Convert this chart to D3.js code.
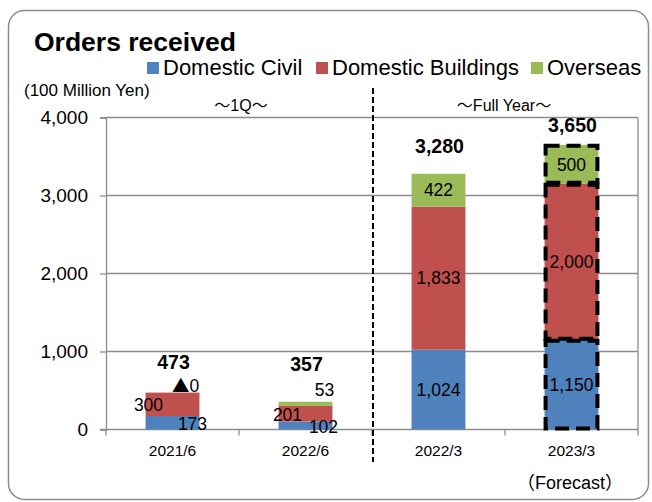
<!DOCTYPE html>
<html>
<head>
<meta charset="utf-8">
<script src="https://cdn.jsdelivr.net/npm/d3@7"></script>
<style>
  body { margin: 0; background: #fff; }
  svg { font-family: "Liberation Sans", Arial, sans-serif; }
  .cjk { font-family: "Noto Sans CJK JP", sans-serif; }
</style>
</head>
<body>
<svg width="652" height="502"></svg>
<script>
// data
const categories = ['2021/6', '2022/6', '2022/3', '2023/3'];
const seriesNames = ['Domestic Civil', 'Domestic Buildings', 'Overseas'];
const civil = [173, 102, 1024, 1150];
const buildings = [300, 201, 1833, 2000];
const overseas = [0, 53, 422, 500];
const totals = ['473', '357', '3,280', '3,650'];
const overseasText = ['▲0', '53', '422', '500'];
const yTicks = [0, 1000, 2000, 3000, 4000];

const colors = ['#4F81BD', '#C0504D', '#9BBB59'];

// label nudges for the thin 1Q bars [dx, dy] per series per category
const nudges = [
  [[20, 1], [18, 1], [0, 0], [0, 0]],
  [[-24, 0], [-18, 1], [0, 0], [0, 0]],
  [[13, -7], [19, -14], [0, 0], [0, 0]]
];
const totalGap = [31, 38, 28, 20];

const svg = d3.select('svg');

// writes text, putting the wide japanese glyphs in a CJK font
function mixed(sel, str) {
  str.split(/([～（）▲])/).filter(s => s).forEach(part => {
    const t = sel.append('tspan').text(part);
    if (/[～（）▲]/.test(part)) t.attr('class', 'cjk');
  });
}

// outer frame
svg.append('rect')
  .attr('x', 8.5).attr('y', 10.5)
  .attr('width', 640).attr('height', 489)
  .attr('rx', 16)
  .attr('fill', 'none')
  .attr('stroke', '#8c8c8c')
  .attr('stroke-width', 1.5);

const plotL = 106, plotR = 638, plotT = 117.5, plotB = 429.5;

const x = d3.scaleBand().domain(categories).range([plotL, plotR]).padding(0);
const y = d3.scaleLinear().domain([0, 4000]).range([plotB, plotT]);
const barW = x.bandwidth() * 0.405;

// gridlines
svg.append('g')
  .selectAll('line')
  .data(yTicks.slice(1))
  .enter().append('line')
  .attr('x1', plotL).attr('x2', plotR)
  .attr('y1', d => y(d)).attr('y2', d => y(d))
  .attr('stroke', '#8c8c8c')
  .attr('stroke-width', 1.3);

// right frame of plot area
svg.append('line')
  .attr('x1', plotR).attr('x2', plotR)
  .attr('y1', plotT).attr('y2', plotB)
  .attr('stroke', '#8c8c8c').attr('stroke-width', 1.3);

// y axis
const yAxis = svg.append('g')
  .attr('transform', `translate(${plotL},0)`)
  .call(d3.axisLeft(y).tickValues(yTicks).tickSize(6).tickPadding(12)
    .tickFormat(d3.format(',')));
yAxis.select('.domain').attr('stroke', '#8c8c8c').attr('stroke-width', 1.3);
yAxis.selectAll('.tick line').attr('stroke', '#8c8c8c').attr('stroke-width', 1.3);
yAxis.selectAll('.tick text')
  .attr('font-size', 19)
  .attr('font-family', '"Liberation Sans", Arial, sans-serif')
  .attr('fill', '#000');

// x axis line with boundary ticks
svg.append('line')
  .attr('x1', plotL - 6).attr('x2', plotR)
  .attr('y1', plotB).attr('y2', plotB)
  .attr('stroke', '#8c8c8c').attr('stroke-width', 1.3);
svg.append('g')
  .selectAll('line')
  .data(categories.concat(['end']))
  .enter().append('line')
  .attr('x1', (d, i) => plotL + i * x.step())
  .attr('x2', (d, i) => plotL + i * x.step())
  .attr('y1', plotB).attr('y2', plotB + 6)
  .attr('stroke', '#8c8c8c').attr('stroke-width', 1.3);

svg.append('g')
  .selectAll('text')
  .data(categories)
  .enter().append('text')
  .attr('x', d => x(d) + x.bandwidth() / 2)
  .attr('y', 456)
  .attr('text-anchor', 'middle')
  .attr('font-size', 15.5)
  .text(d => d);

// stacked bars
const rows = categories.map((c, i) => ({ cat: c, s0: civil[i], s1: buildings[i], s2: overseas[i] }));
const stack = d3.stack().keys(['s0', 's1', 's2'])(rows);

const seriesText = [
  civil.map(d3.format(',')),
  buildings.map(d3.format(',')),
  overseasText
];

stack.forEach((layer, si) => {
  const g = svg.append('g');
  g.selectAll('rect')
    .data(layer)
    .enter().append('rect')
    .attr('x', d => x(d.data.cat) + (x.bandwidth() - barW) / 2)
    .attr('y', d => y(d[1]))
    .attr('width', barW)
    .attr('height', d => y(d[0]) - y(d[1]))
    .attr('fill', colors[si]);
});

// dashed outlines on the forecast bar
const fi = categories.indexOf('2023/3');
svg.append('g')
  .selectAll('rect')
  .data(stack.map(layer => layer[fi]))
  .enter().append('rect')
  .attr('x', d => x(d.data.cat) + (x.bandwidth() - barW) / 2 + 1)
  .attr('y', d => y(d[1]) + 1)
  .attr('width', barW - 2)
  .attr('height', d => y(d[0]) - y(d[1]) - 2)
  .attr('fill', 'none')
  .attr('stroke', '#000')
  .attr('stroke-width', 4)
  .attr('stroke-dasharray', '14,7');

// segment labels
stack.forEach((layer, si) => {
  svg.append('g')
    .selectAll('text')
    .data(layer)
    .enter().append('text')
    .attr('x', (d, i) => x(d.data.cat) + x.bandwidth() / 2 + nudges[si][i][0])
    .attr('y', (d, i) => (y(d[0]) + y(d[1])) / 2 + nudges[si][i][1])
    .attr('dy', '0.36em')
    .attr('text-anchor', 'middle')
    .attr('font-size', 17.5)
    .attr('fill', '#000')
    .each(function (d, i) { mixed(d3.select(this), seriesText[si][i]); });
});

// totals
svg.append('g')
  .selectAll('text')
  .data(stack[2])
  .enter().append('text')
  .attr('x', d => x(d.data.cat) + x.bandwidth() / 2 + 1)
  .attr('y', (d, i) => y(d[1]) - totalGap[i])
  .attr('dy', '0.36em')
  .attr('text-anchor', 'middle')
  .attr('font-size', 19.5)
  .attr('font-weight', 'bold')
  .text((d, i) => totals[i]);

// divider between 1Q and full year
svg.append('line')
  .attr('x1', 373).attr('x2', 373)
  .attr('y1', 88).attr('y2', 462)
  .attr('stroke', '#000')
  .attr('stroke-width', 2)
  .attr('stroke-dasharray', '6,3');

// section headers
mixed(svg.append('text').attr('x', 241).attr('y', 111)
  .attr('text-anchor', 'middle').attr('font-size', 16), '～1Q～');
mixed(svg.append('text').attr('x', 504).attr('y', 111)
  .attr('text-anchor', 'middle').attr('font-size', 16), '～Full Year～');

svg.append('text').attr('x', 24).attr('y', 96)
  .attr('font-size', 17).text('(100 Million Yen)');

mixed(svg.append('text').attr('x', 570).attr('y', 489)
  .attr('text-anchor', 'middle').attr('font-size', 18), '（Forecast）');

// title
svg.append('text').attr('x', 34).attr('y', 51)
  .attr('font-size', 26.5).attr('font-weight', 'bold').text('Orders received');

// legend
const legendX = [147, 316, 531];
const legend = svg.append('g')
  .selectAll('g')
  .data(seriesNames)
  .enter().append('g')
  .attr('transform', (d, i) => `translate(${legendX[i]},62)`);
legend.append('rect')
  .attr('width', 12).attr('height', 12)
  .attr('fill', (d, i) => colors[i]);
legend.append('text')
  .attr('x', 16).attr('y', 13)
  .attr('font-size', 22)
  .text(d => d);
</script>
</body>
</html>
